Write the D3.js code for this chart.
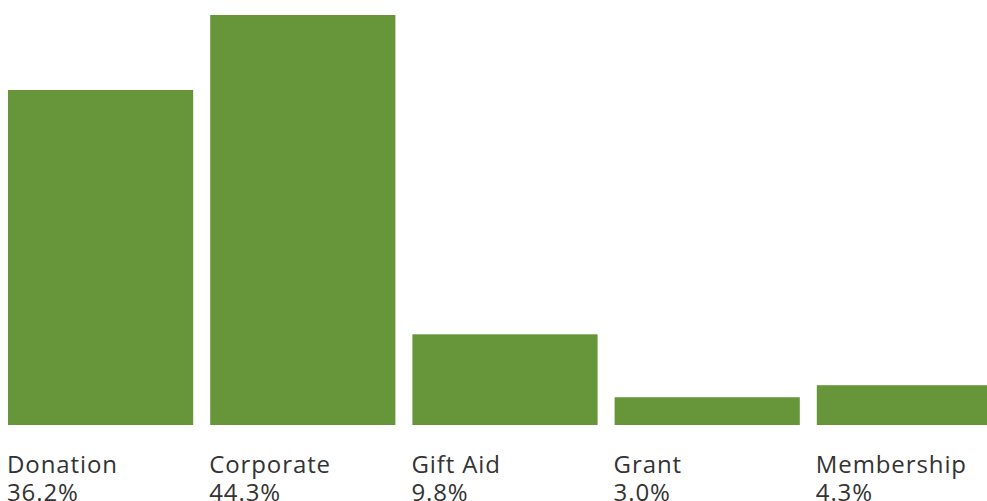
<!DOCTYPE html>
<html><head><meta charset="utf-8">
<script src="https://cdn.jsdelivr.net/npm/d3@7"></script>
<style>html,body{margin:0;padding:0;background:#fff;overflow:hidden}</style>
</head><body>
<svg id="c" width="987" height="501"></svg>
<script>
const categories = ["Donation", "Corporate", "Gift Aid", "Grant", "Membership"];
const values = [36.2, 44.3, 9.8, 3.0, 4.3];
const valueLabels = ["36.2%", "44.3%", "9.8%", "3.0%", "4.3%"];

const svg = d3.select("#c");
const x = d3.scaleBand().domain(categories).range([8, 1002]).paddingInner(0.084).paddingOuter(0);
const y = d3.scaleLinear().domain([0, 44.3]).range([425, 15]);

svg.selectAll("rect.bar").data(categories).join("rect")
  .attr("class","bar")
  .attr("x", d => x(d))
  .attr("width", x.bandwidth())
  .attr("y", (d,i) => y(values[i]))
  .attr("height", (d,i) => y(0) - y(values[i]))
  .attr("fill", "#67963a");

const g = svg.selectAll("g.lab").data(categories).join("g").attr("class","lab")
  .attr("transform", d => `translate(${x(d)-1},0)`);
const font = t => t.attr("font-family","'Open Sans', sans-serif").attr("font-size", 24)
  .attr("letter-spacing", "0.9px").attr("fill","#333");
g.append("text").attr("y", 473).text(d => d).call(font);
g.append("text").attr("y", 501).text((d,i) => valueLabels[i]).call(font);
</script>
</body></html>
